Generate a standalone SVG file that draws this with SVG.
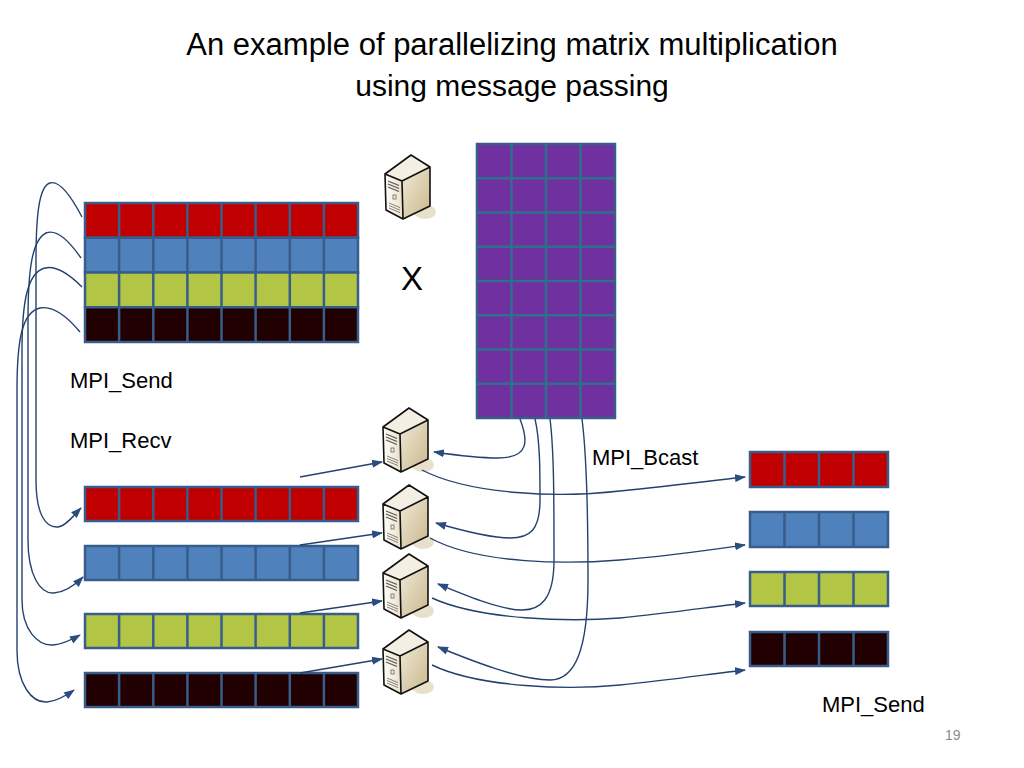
<svg xmlns="http://www.w3.org/2000/svg" xmlns:xlink="http://www.w3.org/1999/xlink" width="1024" height="768" viewBox="0 0 1024 768">
<style>
.t{font-family:"Liberation Sans",Arial,sans-serif;fill:#000}
.cell{stroke:#385D8A;stroke-width:2.5}
.grid{stroke:#385D8A;stroke-width:2.5;fill:none}
.pgrid{stroke:#2F6E8C;stroke-width:2.5;fill:none}
.red{fill:#C00000}.blue{fill:#4F81BD}.green{fill:#B3C545}.black{fill:#200000}.purple{fill:#7030A0}
.c{fill:none;stroke:#24426E;stroke-width:1.4}
</style>
<defs>
<marker id="ah" markerUnits="userSpaceOnUse" markerWidth="11" markerHeight="9" refX="10" refY="4.5" orient="auto">
<path d="M0,0.5 L11,4.5 L0,8.5 Z" fill="#2B4C7E"/>
</marker>
<linearGradient id="gR" x1="0" y1="0" x2="1" y2="1">
<stop offset="0" stop-color="#F1EAD8"/><stop offset="1" stop-color="#C9B68C"/>
</linearGradient>
<linearGradient id="gF" x1="0" y1="0" x2="1" y2="0">
<stop offset="0" stop-color="#FFFDF7"/><stop offset="1" stop-color="#EAE1CB"/>
</linearGradient>
<g id="server">
<ellipse cx="40" cy="57" rx="11" ry="7" fill="#D8CBA8" opacity="0.6"/>
<polygon points="17,26 45,12 45,51 18,64" fill="url(#gR)"/>
<polygon points="0,19 17,26 18,64 1,55" fill="url(#gF)"/>
<polygon points="0,19 26,0 45,12 17,26" fill="#F4EFE3"/>
<path d="M3,26 l11,4.6 M3,29 l11,4.6 M3,32 l11,4.6" stroke="#555" stroke-width="1.1"/>
<rect x="8" y="40" width="3" height="4" fill="none" stroke="#666" stroke-width="0.8"/>
<path d="M4,48 l11,4.6 M4,50.5 l11,4.6 M4,53 l11,4.6" stroke="#777" stroke-width="0.9"/>
<path d="M0,19 L26,0 L45,12 L45,51 L18,64 L1,55 Z M0,19 L17,26 L18,64 M17,26 L45,12" fill="none" stroke="#111" stroke-width="1.6" stroke-linejoin="round"/>
</g>
</defs>
<rect width="1024" height="768" fill="#fff"/>

<g id="title">
<text class="t" x="512" y="55" font-size="31" text-anchor="middle">An example of parallelizing matrix multiplication</text>
<text class="t" x="512" y="96" font-size="30" text-anchor="middle">using message passing</text>
</g>

<g id="matrixA">
<rect class="cell red" x="85" y="203" width="273" height="34.75"/>
<rect class="cell blue" x="85" y="237.75" width="273" height="34.75"/>
<rect class="cell green" x="85" y="272.5" width="273" height="34.75"/>
<rect class="cell black" x="85" y="307.25" width="273" height="34.75"/>
<path class="grid" d="M119.1,203V342M153.3,203V342M187.4,203V342M221.5,203V342M255.6,203V342M289.8,203V342M323.9,203V342"/>
</g>

<g id="matrixB">
<rect class="purple" x="477" y="144" width="138" height="274" stroke="#385D8A" stroke-width="2.5"/>
<path class="pgrid" d="M511.5,144V418M546,144V418M580.5,144V418M477,178.25H615M477,212.5H615M477,246.75H615M477,281H615M477,315.25H615M477,349.5H615M477,383.75H615"/>
</g>

<g id="times"><text class="t" x="412" y="290" font-size="33" text-anchor="middle">X</text></g>

<g id="server0"><use xlink:href="#server" href="#server" transform="translate(385,155)"/></g>
<g id="server1"><use xlink:href="#server" href="#server" transform="translate(383,408)"/></g>
<g id="server2"><use xlink:href="#server" href="#server" transform="translate(383,485)"/></g>
<g id="server3"><use xlink:href="#server" href="#server" transform="translate(383,554)"/></g>
<g id="server4"><use xlink:href="#server" href="#server" transform="translate(383,630)"/></g>

<g id="rowRed">
<rect class="cell red" x="85" y="487" width="273" height="34"/>
<path class="grid" d="M119.1,487V521M153.3,487V521M187.4,487V521M221.5,487V521M255.6,487V521M289.8,487V521M323.9,487V521"/>
</g>
<g id="rowBlue">
<rect class="cell blue" x="85" y="546" width="273" height="34"/>
<path class="grid" d="M119.1,546V580M153.3,546V580M187.4,546V580M221.5,546V580M255.6,546V580M289.8,546V580M323.9,546V580"/>
</g>
<g id="rowGreen">
<rect class="cell green" x="85" y="614" width="273" height="34"/>
<path class="grid" d="M119.1,614V648M153.3,614V648M187.4,614V648M221.5,614V648M255.6,614V648M289.8,614V648M323.9,614V648"/>
</g>
<g id="rowBlack">
<rect class="cell black" x="85" y="673" width="273" height="34"/>
<path class="grid" d="M119.1,673V707M153.3,673V707M187.4,673V707M221.5,673V707M255.6,673V707M289.8,673V707M323.9,673V707"/>
</g>

<g id="resRed">
<rect class="cell red" x="750" y="452" width="138" height="35"/>
<path class="grid" d="M784.5,452V487M819,452V487M853.5,452V487"/>
</g>
<g id="resBlue">
<rect class="cell blue" x="750" y="512" width="138" height="35"/>
<path class="grid" d="M784.5,512V547M819,512V547M853.5,512V547"/>
</g>
<g id="resGreen">
<rect class="cell green" x="750" y="572" width="138" height="34"/>
<path class="grid" d="M784.5,572V606M819,572V606M853.5,572V606"/>
</g>
<g id="resBlack">
<rect class="cell black" x="750" y="632" width="138" height="34"/>
<path class="grid" d="M784.5,632V666M819,632V666M853.5,632V666"/>
</g>

<g id="labels">
<text class="t" x="70" y="388" font-size="22">MPI_Send</text>
<text class="t" x="70" y="448" font-size="22">MPI_Recv</text>
<text class="t" x="592" y="465" font-size="22">MPI_Bcast</text>
<text class="t" x="822" y="712" font-size="22">MPI_Send</text>
<text x="945" y="740" font-size="14" fill="#8C8C8C" font-family="Liberation Sans,Arial,sans-serif">19</text>
</g>

<g id="connectors">
<path class="c" marker-end="url(#ah)" d="M82,217 C72,198 60,180 50,183 C40,186 36,210 36,260 L36,480 C36,515 46,528 58,527 C66,526 74,515 81,508"/>
<path class="c" marker-end="url(#ah)" d="M81,258 C72,245 58,228 46,233 C32,240 28,270 28,320 L28,540 C28,575 40,594 54,593 C66,592 76,584 83,577"/>
<path class="c" marker-end="url(#ah)" d="M82,287 C72,277 58,265 45,268 C28,272 22,300 22,350 L22,600 C22,630 38,646 53,645 C64,644 73,639 80,635"/>
<path class="c" marker-end="url(#ah)" d="M80,332 C70,320 55,305 40,308 C22,312 17,340 17,390 L17,650 C17,685 32,703 47,702 C58,701 67,695 74,690"/>

<path class="c" marker-end="url(#ah)" d="M300,477 L382,462"/>
<path class="c" marker-end="url(#ah)" d="M300,545 L382,533"/>
<path class="c" marker-end="url(#ah)" d="M300,613 L382,601"/>
<path class="c" marker-end="url(#ah)" d="M300,673 L382,659"/>

<path class="c" marker-end="url(#ah)" d="M520,419 C528,440 530,458 498,458 C480,458 455,455 434,452"/>
<path class="c" marker-end="url(#ah)" d="M535,419 C540,440 540,470 540,500 C540,530 530,538 510,538 C490,538 460,530 436,523"/>
<path class="c" marker-end="url(#ah)" d="M550,419 C554,450 554,500 554,560 C554,600 540,610 522,610 C500,610 465,595 438,584"/>
<path class="c" marker-end="url(#ah)" d="M582,419 C586,450 588,500 588,580 C588,650 575,680 550,680 C520,680 470,660 438,647"/>

<path class="c" marker-end="url(#ah)" d="M422,470 C470,495 560,498 620,491 C670,486 710,481 745,477"/>
<path class="c" marker-end="url(#ah)" d="M430,538 C480,565 570,564 620,560 C670,556 710,550 745,545"/>
<path class="c" marker-end="url(#ah)" d="M432,598 C480,620 570,622 620,618 C670,613 710,607 745,603"/>
<path class="c" marker-end="url(#ah)" d="M432,665 C480,688 570,690 620,685 C670,680 710,674 745,670"/>
</g>
</svg>
